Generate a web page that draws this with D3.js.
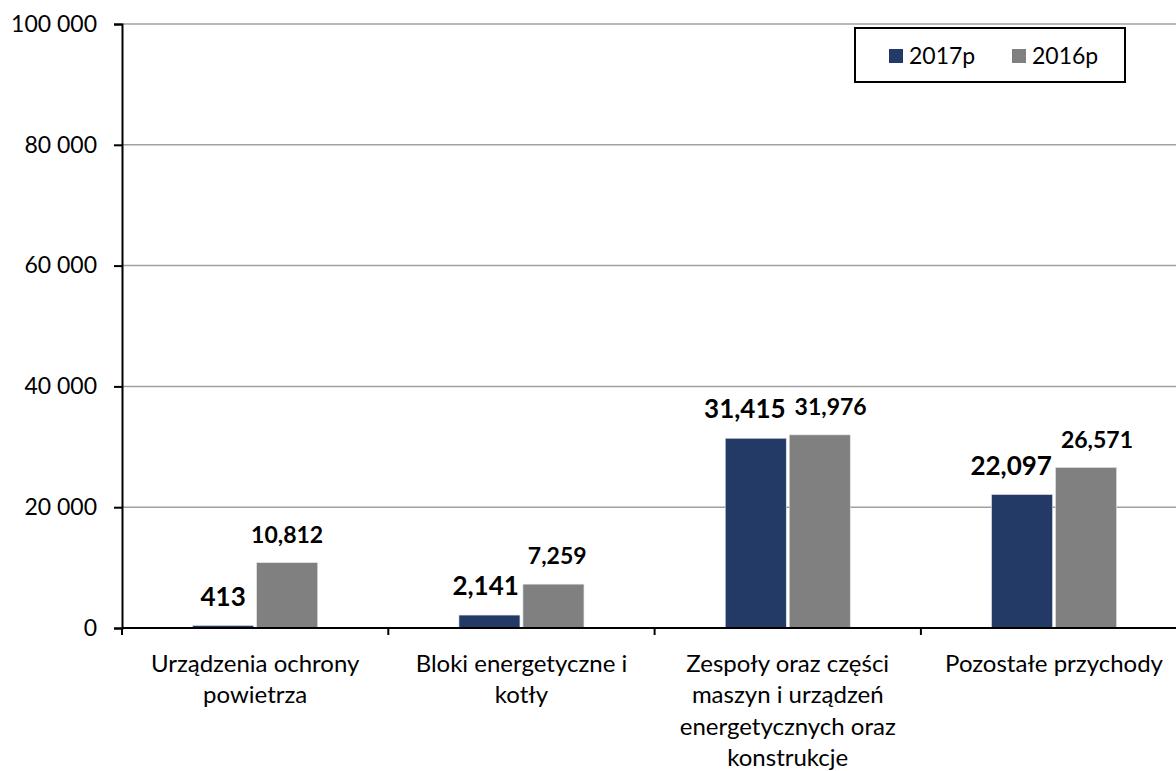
<!DOCTYPE html>
<html>
<head>
<meta charset="utf-8">
<script src="https://cdn.jsdelivr.net/npm/d3@7"></script>
<style>
  html, body { margin: 0; padding: 0; background: #fff; }
  svg { display: block; }
  text { font-family: Lato, "Open Sans", sans-serif; fill: #000; }
</style>
</head>
<body>
<svg id="chart" width="1176" height="771"></svg>
<script>
// Revenue by product group (thousand PLN), preliminary figures
const categories = [
  ["Urządzenia ochrony", "powietrza"],
  ["Bloki energetyczne i", "kotły"],
  ["Zespoły oraz części", "maszyn i urządzeń", "energetycznych oraz", "konstrukcje"],
  ["Pozostałe przychody"]
];
const seriesNames = ["2017p", "2016p"];
const values2017 = [413, 2141, 31415, 22097];
const values2016 = [10812, 7259, 31976, 26571];
const yTicks = [0, 20000, 40000, 60000, 80000, 100000];

const colors = { "2017p": "#243A66", "2016p": "#808080" };
const labelSize = { "2017p": 26, "2016p": 23 };

const svg = d3.select("#chart");
const margin = { left: 122, top: 24, bottom: 628 };
const plotRight = 122 + 4 * 266.3;

const x = d3.scaleBand()
  .domain(d3.range(categories.length))
  .range([margin.left, plotRight])
  .paddingInner(0).paddingOuter(0);

const y = d3.scaleLinear().domain([0, 100000]).range([margin.bottom, margin.top]);

const fmtAxis = v => d3.format(",")(v).replace(/,/g, " ");

// horizontal gridlines
svg.append("g")
  .selectAll("line")
  .data(yTicks.filter(d => d > 0))
  .join("line")
  .attr("x1", margin.left).attr("x2", 1176)
  .attr("y1", d => y(d)).attr("y2", d => y(d))
  .attr("stroke", "#a0a0a0").attr("stroke-width", 1.5);

// y axis
const yAxis = svg.append("g")
  .attr("transform", `translate(${margin.left},0)`)
  .call(d3.axisLeft(y).tickValues(yTicks).tickFormat(fmtAxis).tickSize(8).tickPadding(17));
yAxis.select(".domain").attr("stroke", "#000").attr("stroke-width", 2);
yAxis.selectAll(".tick line").attr("stroke", "#000").attr("stroke-width", 2);
yAxis.selectAll(".tick text")
  .style("font-family", 'Lato, "Open Sans", sans-serif')
  .style("font-size", "23px").attr("fill", "#000");

// bars and value labels
const groups = [
  { name: "2017p", values: values2017 },
  { name: "2016p", values: values2016 }
];
const barW = 61, gap = 3;
const barX = (i, s) => x(i) + x.bandwidth() / 2 + (s === 0 ? -(barW + gap / 2) : gap / 2);

const labelSel = [];
groups.forEach((g, s) => {
  svg.append("g")
    .selectAll("rect")
    .data(g.values)
    .join("rect")
    .attr("x", (d, i) => barX(i, s))
    .attr("y", d => y(d))
    .attr("width", barW)
    .attr("height", d => y(0) - y(d))
    .attr("fill", colors[g.name])
    .attr("stroke", "#dfe3ea").attr("stroke-width", 0.6);

  labelSel.push(svg.append("g")
    .selectAll("text")
    .data(g.values)
    .join("text")
    .attr("x", (d, i) => barX(i, s) + barW / 2)
    .attr("y", d => y(d) - 20)
    .attr("text-anchor", "middle")
    .style("font-size", labelSize[g.name] + "px").style("font-weight", "700")
    .text(d => d3.format(",")(d)));
});

// push apart value labels of the same category when they collide
categories.forEach((c, i) => {
  const a = labelSel[0].nodes()[i], b = labelSel[1].nodes()[i];
  const ba = a.getBBox(), bb = b.getBBox();
  const vOverlap = ba.y < bb.y + bb.height && bb.y < ba.y + ba.height;
  const need = ba.width / 2 + bb.width / 2 + 9;
  const ca = ba.x + ba.width / 2, cb = bb.x + bb.width / 2;
  if (vOverlap && cb - ca < need) {
    const shift = (need - (cb - ca)) / 2;
    d3.select(a).attr("x", ca - shift);
    d3.select(b).attr("x", cb + shift);
  }
});

// x axis
svg.append("line")
  .attr("x1", margin.left).attr("x2", 1176)
  .attr("y1", y(0)).attr("y2", y(0))
  .attr("stroke", "#000").attr("stroke-width", 2);
svg.append("g")
  .selectAll("line")
  .data(d3.range(categories.length + 1))
  .join("line")
  .attr("x1", i => margin.left + i * x.bandwidth())
  .attr("x2", i => margin.left + i * x.bandwidth())
  .attr("y1", y(0)).attr("y2", y(0) + 7)
  .attr("stroke", "#000").attr("stroke-width", 2);

// category labels
svg.append("g")
  .selectAll("text")
  .data(categories)
  .join("text")
  .attr("text-anchor", "middle")
  .style("font-size", "24px")
  .each(function(lines, i) {
    d3.select(this).selectAll("tspan")
      .data(lines)
      .join("tspan")
      .attr("x", x(i) + x.bandwidth() / 2)
      .attr("y", (d, j) => 672 + j * 31.3)
      .text(d => d);
  });

// legend
const legend = svg.append("g");
legend.append("rect")
  .attr("x", 855).attr("y", 28).attr("width", 270).attr("height", 54)
  .attr("fill", "#fff").attr("stroke", "#000").attr("stroke-width", 2);
const legendX = [889, 1012];
seriesNames.forEach((n, k) => {
  legend.append("rect")
    .attr("x", legendX[k]).attr("y", 49).attr("width", 14).attr("height", 14)
    .attr("fill", colors[n]);
  legend.append("text")
    .attr("x", legendX[k] + 20).attr("y", 64)
    .style("font-size", "23px")
    .text(n);
});
</script>
</body>
</html>
